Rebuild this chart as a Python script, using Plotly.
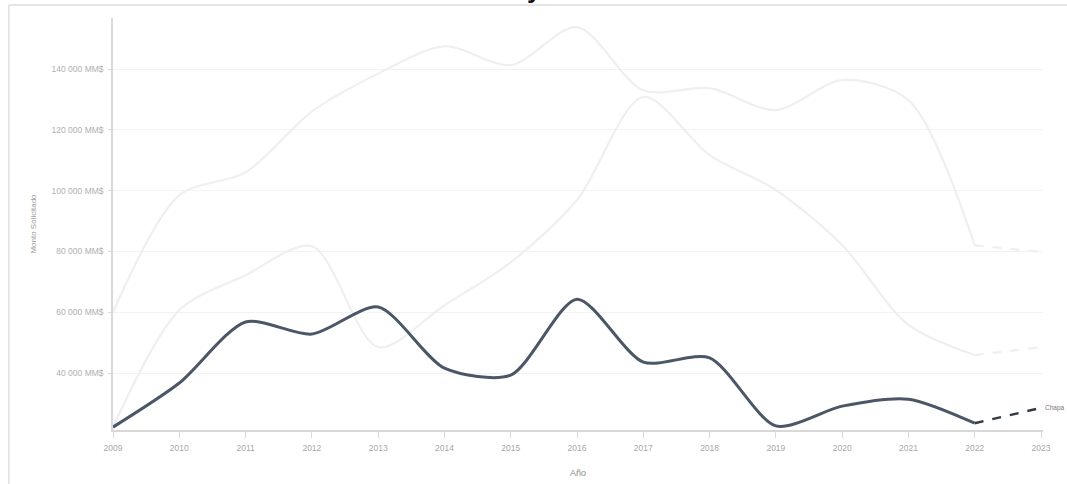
import plotly.graph_objects as go

# ---- data ----
years = [2009, 2010, 2011, 2012, 2013, 2014, 2015, 2016, 2017, 2018, 2019, 2020, 2021, 2022]
proj_years = [2022, 2023]

serie_principal = [22200, 36700, 56800, 52800, 61700, 41600, 39300, 64300, 43600, 45000, 22600, 29100, 31400, 23500]
serie_principal_proy = [23500, 28500]

serie_alta = [60000, 98500, 106000, 126000, 138500, 147500, 141300, 153800, 133000, 133700, 126500, 136400, 129800, 82000]
serie_alta_proy = [82000, 79800]

serie_media = [22200, 60700, 72200, 81700, 48500, 62300, 76400, 96900, 130800, 111700, 100200, 82100, 55800, 45900]
serie_media_proy = [45900, 48500]

y_ticks = [40000, 60000, 80000, 100000, 120000, 140000]
y_tick_labels = ["40 000 MM$", "60 000 MM$", "80 000 MM$", "100 000 MM$", "120 000 MM$", "140 000 MM$"]
x_ticks = list(range(2009, 2024))
etiqueta_proy = "Chapa"

# ---- figure ----
DARK = "#4b5666"
LIGHT = "#efefef"

fig = go.Figure()

for vals, proj in [(serie_alta, serie_alta_proy), (serie_media, serie_media_proy)]:
    fig.add_trace(go.Scatter(x=years, y=vals, mode="lines",
                             line=dict(color=LIGHT, width=2.2, shape="spline", smoothing=0.85),
                             hoverinfo="skip", showlegend=False))
    fig.add_trace(go.Scatter(x=proj_years, y=proj, mode="lines",
                             line=dict(color=LIGHT, width=2.2, dash="dash"),
                             hoverinfo="skip", showlegend=False))

fig.add_trace(go.Scatter(x=years, y=serie_principal, mode="lines",
                         line=dict(color=DARK, width=3, shape="spline", smoothing=0.75),
                         showlegend=False))
fig.add_trace(go.Scatter(x=proj_years, y=serie_principal_proy, mode="lines",
                         line=dict(color="#333a44", width=2.5, dash="dash"),
                         showlegend=False))

fig.add_annotation(x=proj_years[-1], y=serie_principal_proy[-1], text=etiqueta_proy,
                   xref="x", yref="y", xanchor="left", yanchor="middle", xshift=2,
                   showarrow=False, font=dict(size=6.5, color="#777777", family="Liberation Sans"))

# cut-off title fragment at the top edge
fig.add_annotation(x=0.453, y=1.030, xref="paper", yref="paper", text="<b>y</b>",
                   showarrow=False, xanchor="center", yanchor="bottom",
                   font=dict(size=26, color="#111111", family="Liberation Sans"))

# screenshot frame
fig.add_shape(type="line", xref="paper", yref="paper", x0=-0.112, x1=1.03, y0=1.0316, y1=1.0316,
              line=dict(color="#dcdcdc", width=1.5))
fig.add_shape(type="line", xref="paper", yref="paper", x0=-0.112, x1=-0.112, y0=-0.14, y1=1.0316,
              line=dict(color="#e2e2e2", width=1.5))

fig.update_layout(
    width=1067, height=484,
    margin=dict(l=113, r=24, t=18, b=54, autoexpand=False),
    paper_bgcolor="white", plot_bgcolor="white",
    font=dict(family="Liberation Sans", size=8, color="#a8a8a8"),
)

fig.update_xaxes(range=[2009, 2023.03], tickvals=x_ticks, ticktext=[str(v) for v in x_ticks],
                 showgrid=False, zeroline=False,
                 showline=True, linecolor="#d8d8d8", linewidth=1.5,
                 ticks="outside", ticklen=6, tickcolor="#d8d8d8", tickwidth=1,
                 ticklabelstandoff=3,
                 tickfont=dict(size=8.5, color="#a8a8a8"),
                 title=dict(text="Año", font=dict(size=9, color="#8a8a8a"), standoff=18))

fig.update_yaxes(range=[21250, 156800], tickvals=y_ticks, ticktext=y_tick_labels,
                 showgrid=True, gridcolor="#f3f3f3", gridwidth=1, zeroline=False,
                 showline=True, linecolor="#d8d8d8", linewidth=1.5,
                 ticks="outside", ticklen=3, tickcolor="#d8d8d8",
                 ticklabelstandoff=3,
                 tickfont=dict(size=8.5, color="#b0b0b0"),
                 title=dict(text="Monto Solicitado", font=dict(size=8, color="#9a9a9a"), standoff=14))

fig.write_html("out.html", config={"displayModeBar": False},
               post_script="document.body.style.margin='0px';document.body.style.overflow='hidden';")
